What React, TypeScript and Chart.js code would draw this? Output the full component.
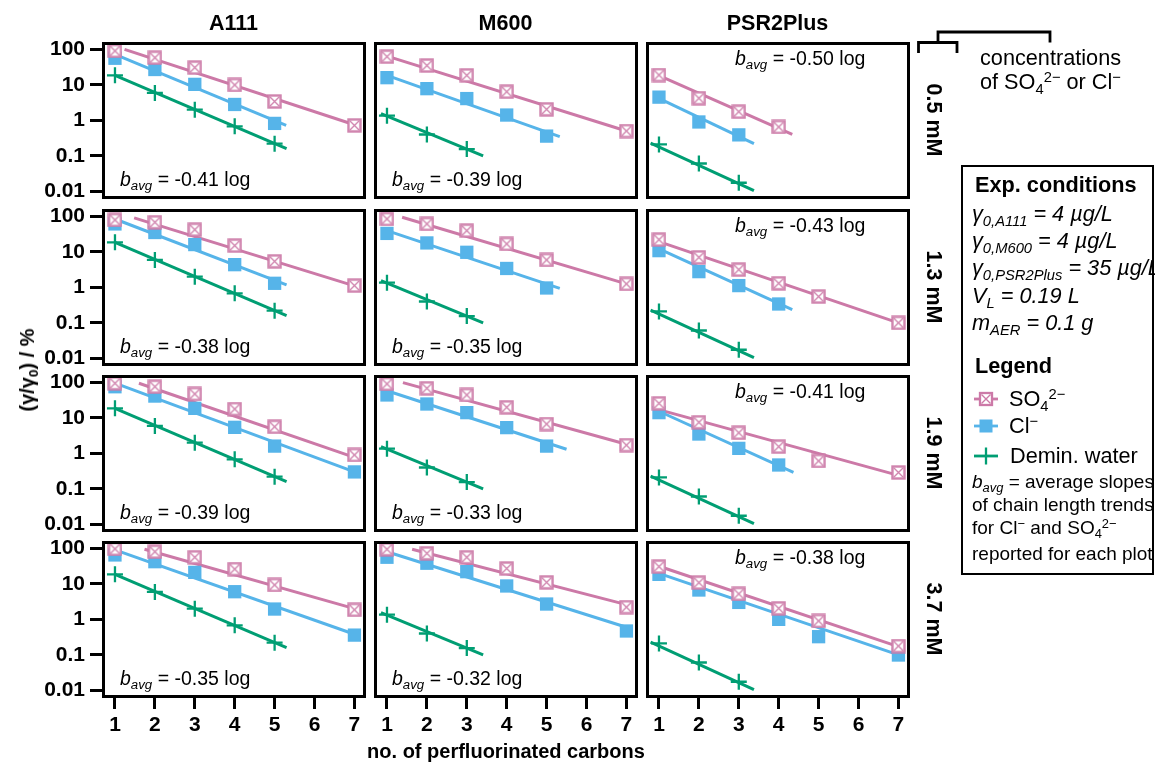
import React, { useEffect, useRef } from "react";
import { Chart, registerables } from "chart.js";

Chart.register(...registerables);

const FONT = '"Liberation Sans", Arial, Helvetica, sans-serif';
const PINK = "#CC79A7";
const BLUE = "#56B4E9";
const GREEN = "#009E73";

const MATERIALS = ["A111", "M600", "PSR2Plus"];
const CONCENTRATIONS = ["0.5 mM", "1.3 mM", "1.9 mM", "3.7 mM"];
const CARBONS = [1, 2, 3, 4, 5, 6, 7];
const X_TICK_LABELS = ["1", "2", "3", "4", "5", "6", "7"];
const Y_TICK_VALUES = [0.01, 0.1, 1, 10, 100];
const Y_TICK_LABELS = ["0.01", "0.1", "1", "10", "100"];

const B_AVG_A111 = ["-0.41", "-0.38", "-0.39", "-0.35"];
const B_AVG_M600 = ["-0.39", "-0.35", "-0.33", "-0.32"];
const B_AVG_PSR2PLUS = ["-0.50", "-0.43", "-0.41", "-0.38"];

type V = number | null;
const N = null;

// (γ/γ0) in % for chain lengths 1..7 (null = not measured), one row per concentration
const SO4_A111: V[][] = [
  [90, 58, 30.5, 9.9, 3.4, N, 0.72],
  [79, 68, 42, 15, 5.4, N, 1.12],
  [94, 75, 47, 17.7, 5.6, N, 0.9],
  [96, 80, 56, 26, 9.3, N, 1.85],
];
const SO4_M600: V[][] = [
  [62, 35, 18.5, 6.4, 2.04, N, 0.5],
  [84, 61, 39.5, 16.7, 5.9, N, 1.25],
  [90, 68, 44, 19.8, 6.7, N, 1.7],
  [94, 72, 56, 27, 11, N, 2.2],
];
const SO4_PSR2PLUS: V[][] = [
  [18.9, 4.2, 1.75, 0.65, N, N, N],
  [22, 7.0, 3.15, 1.3, 0.55, N, 0.1],
  [25.6, 7.5, 3.8, 1.54, 0.61, N, 0.29],
  [30.5, 10.8, 5.2, 2.04, 0.9, N, 0.177],
];
const CL_A111: V[][] = [
  [56, 27, 10.3, 2.8, 0.82, N, N],
  [61, 35, 16, 4.35, 1.3, N, N],
  [75, 41, 18.5, 5.4, 1.6, N, 0.3],
  [65, 42, 21, 6.0, 1.95, N, 0.36],
];
const CL_M600: V[][] = [
  [15.9, 7.8, 4.1, 1.41, 0.36, N, N],
  [33, 17.8, 9.7, 3.4, 0.96, N, N],
  [44, 24.5, 14, 5.3, 1.6, N, N],
  [56, 38, 22, 8.7, 2.7, N, 0.47],
];
const CL_PSR2PLUS: V[][] = [
  [4.5, 0.9, 0.39, N, N, N, N],
  [10.8, 2.77, 1.12, 0.34, N, N, N],
  [14, 3.5, 1.38, 0.47, N, N, N],
  [18.5, 6.7, 3.0, 1.0, 0.325, N, 0.099],
];
const WATER_A111: V[] = [18.5, 5.9, 2.0, 0.68, 0.22, N, N];
const WATER_M600: V[] = [1.35, 0.4, 0.155, N, N, N, N];
const WATER_PSR2PLUS: V[] = [0.21, 0.061, 0.0175, N, N, N, N];

// chain length trend lines: [x start, value start, x end, value end]
const SO4_FIT_A111 = [[1.24, 100, 7, 0.75], [1.48, 90, 7, 1.1], [1.6, 94, 7, 0.77], [1.74, 94, 7, 2.0]];
const SO4_FIT_M600 = [[1, 64, 7, 0.5], [1.38, 94, 7, 1.25], [1.4, 98, 7, 1.8], [1.63, 94, 7, 2.6]];
const SO4_FIT_PSR2PLUS = [[0.875, 21, 4.34, 0.4], [0.87, 21.6, 7, 0.1], [0.88, 18.5, 7, 0.24], [0.87, 35, 7, 0.17]];
const CL_FIT_A111 = [[1, 72, 5.29, 0.72], [1, 84, 5.3, 1.17], [1, 95, 7, 0.3], [1, 90, 7, 0.38]];
const CL_FIT_M600 = [[1, 18.5, 5.33, 0.35], [1, 39.5, 5.33, 0.94], [1, 58, 5.5, 1.3], [1, 80, 7, 0.6]];
const CL_FIT_PSR2PLUS = [[0.92, 4.6, 3.38, 0.22], [0.92, 13.4, 4.34, 0.235], [0.93, 16.6, 4.37, 0.29], [0.87, 22, 7, 0.1]];
const WATER_FIT_A111 = [1, 18.5, 5.3, 0.16];
const WATER_FIT_M600 = [0.85, 1.55, 3.41, 0.1];
const WATER_FIT_PSR2PLUS = [0.79, 0.23, 3.38, 0.0105];

const SO4_ALL = [SO4_A111, SO4_M600, SO4_PSR2PLUS];
const CL_ALL = [CL_A111, CL_M600, CL_PSR2PLUS];
const WATER_ALL = [WATER_A111, WATER_M600, WATER_PSR2PLUS];
const SO4_FIT_ALL = [SO4_FIT_A111, SO4_FIT_M600, SO4_FIT_PSR2PLUS];
const CL_FIT_ALL = [CL_FIT_A111, CL_FIT_M600, CL_FIT_PSR2PLUS];
const WATER_FIT_ALL = [WATER_FIT_A111, WATER_FIT_M600, WATER_FIT_PSR2PLUS];
const B_AVG_ALL = [B_AVG_A111, B_AVG_M600, B_AVG_PSR2PLUS];

// layout
const COL_X = [103, 375, 647];
const ROW_Y = [43, 210, 376, 542];
const PW = 261;
const PH = 154;
const LEFT_W = 100;
const BOTTOM_H = 60;
const PAD = 14;
const X_MIN = 0.7;
const X_MAX = 7.24;
const Y_MIN = 0.00695;
const Y_MAX = 150.5;
const TXT = 21.7;

const toPoints = (vals: V[]) =>
  CARBONS.map((c, i) => ({ x: c, y: vals[i] })).filter((p) => p.y !== null);
const fitPoints = (f: number[]) => [
  { x: f[0], y: f[1] },
  { x: f[2], y: f[3] },
];

function makeBoxX(): HTMLCanvasElement {
  const s = 15;
  const c = document.createElement("canvas");
  c.width = s;
  c.height = s;
  const g = c.getContext("2d")!;
  g.fillStyle = "#fff";
  g.fillRect(1, 1, s - 2, s - 2);
  g.strokeStyle = PINK;
  g.globalAlpha = 0.92;
  g.lineWidth = 2.4;
  g.strokeRect(1.5, 1.5, s - 3, s - 3);
  g.lineWidth = 1.4;
  g.beginPath();
  g.moveTo(3, 3);
  g.lineTo(s - 3, s - 3);
  g.moveTo(s - 3, 3);
  g.lineTo(3, s - 3);
  g.stroke();
  return c;
}

const framePlugin = {
  id: "frame",
  afterDraw(chart: any) {
    const { ctx, chartArea: a } = chart;
    ctx.save();
    ctx.strokeStyle = "#000";
    ctx.lineWidth = 3;
    ctx.strokeRect(
      Math.round(a.left) + 0.5,
      Math.round(a.top) + 0.5,
      Math.round(a.right - a.left),
      Math.round(a.bottom - a.top)
    );
    ctx.restore();
  },
};

function Panel({ row, col }: { row: number; col: number }) {
  const ref = useRef<HTMLCanvasElement>(null);
  const isLeft = col === 0;
  const isBottom = row === 3;
  const leftExtra = isLeft ? LEFT_W : PAD;
  const bottomExtra = isBottom ? BOTTOM_H : PAD;
  const w = PW + leftExtra + PAD;
  const h = PH + PAD + bottomExtra;

  useEffect(() => {
    if (!ref.current) return;
    const tickFont = { family: FONT, size: 21, weight: "bold" as const };
    const boxX = makeBoxX();
    const lineDs = (pts: any[], color: string) => ({
      data: pts,
      showLine: true,
      borderColor: color,
      borderWidth: 3,
      pointRadius: 0,
      fill: false,
      tension: 0,
    });
    const chart = new Chart(ref.current, {
      type: "scatter",
      data: {
        datasets: [
          {
            data: toPoints(SO4_ALL[col][row]),
            pointStyle: boxX as any,
            pointRadius: 7.5,
            showLine: false,
          },
          {
            data: toPoints(CL_ALL[col][row]),
            pointStyle: "rect",
            pointRadius: 9.4,
            pointBackgroundColor: BLUE,
            pointBorderColor: BLUE,
            pointBorderWidth: 0,
            showLine: false,
          },
          {
            data: toPoints(WATER_ALL[col]),
            pointStyle: "cross",
            pointRadius: 8,
            pointBorderColor: GREEN,
            pointBorderWidth: 2.3,
            showLine: false,
          },
          lineDs(fitPoints(SO4_FIT_ALL[col][row]), PINK),
          lineDs(fitPoints(CL_FIT_ALL[col][row]), BLUE),
          lineDs(fitPoints(WATER_FIT_ALL[col]), GREEN),
        ] as any,
      },
      options: {
        animation: false,
        responsive: false,
        events: [],
        layout: {
          padding: { left: isLeft ? 0 : PAD, right: PAD, top: PAD, bottom: isBottom ? 0 : PAD },
        },
        plugins: { legend: { display: false }, tooltip: { enabled: false } },
        scales: {
          x: {
            type: "linear",
            min: X_MIN,
            max: X_MAX,
            afterBuildTicks: (s: any) => {
              s.ticks = CARBONS.map((v) => ({ value: v }));
            },
            afterFit: (s: any) => {
              s.height = isBottom ? BOTTOM_H : 0;
              s.paddingLeft = 0;
              s.paddingRight = 0;
              s.paddingTop = 0;
              s.paddingBottom = 0;
            },
            ticks: {
              display: isBottom,
              callback: (_v: any, i: number) => X_TICK_LABELS[i],
              font: tickFont,
              color: "#000",
              padding: 4,
              maxRotation: 0,
              minRotation: 0,
              autoSkip: false,
            },
            grid: {
              display: isBottom,
              drawOnChartArea: false,
              drawTicks: true,
              tickLength: 13,
              tickWidth: 3,
              tickColor: "#000",
            },
            border: { display: false },
          },
          y: {
            type: "logarithmic",
            min: Y_MIN,
            max: Y_MAX,
            afterBuildTicks: (s: any) => {
              s.ticks = Y_TICK_VALUES.map((v) => ({ value: v }));
            },
            afterFit: (s: any) => {
              s.width = isLeft ? LEFT_W : 0;
              s.paddingLeft = 0;
              s.paddingRight = 0;
              s.paddingTop = 0;
              s.paddingBottom = 0;
            },
            ticks: {
              display: isLeft,
              callback: (_v: any, i: number) => Y_TICK_LABELS[i],
              font: tickFont,
              color: "#000",
              padding: 5,
              autoSkip: false,
            },
            grid: {
              display: isLeft,
              drawOnChartArea: false,
              drawTicks: true,
              tickLength: 13,
              tickWidth: 3,
              tickColor: "#000",
            },
            border: { display: false },
          },
        },
      } as any,
      plugins: [framePlugin],
    });
    return () => chart.destroy();
  }, []);

  return (
    <canvas
      ref={ref}
      width={w}
      height={h}
      style={{
        position: "absolute",
        left: COL_X[col] - leftExtra,
        top: ROW_Y[row] - PAD,
        width: w,
        height: h,
      }}
    />
  );
}

const base: React.CSSProperties = {
  position: "absolute",
  whiteSpace: "nowrap",
  lineHeight: 1,
  fontFamily: FONT,
  color: "#000",
};

function Label(props: {
  x: number;
  y: number;
  size?: number;
  bold?: boolean;
  italic?: boolean;
  anchor?: "start" | "middle";
  rotate?: number;
  children: React.ReactNode;
}) {
  const { x, y, size = TXT, bold, italic, anchor = "start", rotate, children } = props;
  let transform = `translate(${anchor === "middle" ? "-50%" : "0"}, -50%)`;
  if (rotate) transform = `translate(-50%, -50%) rotate(${rotate}deg)`;
  return (
    <div
      style={{
        ...base,
        left: x,
        top: y,
        fontSize: size,
        fontWeight: bold ? "bold" : "normal",
        fontStyle: italic ? "italic" : "normal",
        transform,
      }}
    >
      {children}
    </div>
  );
}

const Sub = ({ children, italic }: { children: React.ReactNode; italic?: boolean }) => (
  <span style={{ fontSize: "0.68em", position: "relative", top: "0.32em", fontStyle: italic ? "italic" : undefined }}>
    {children}
  </span>
);
const Sup = ({ children }: { children: React.ReactNode }) => (
  <span style={{ fontSize: "0.68em", position: "relative", top: "-0.45em" }}>{children}</span>
);

function Sample({ x, y, kind }: { x: number; y: number; kind: "so4" | "cl" | "water" }) {
  const color = kind === "so4" ? PINK : kind === "cl" ? BLUE : GREEN;
  return (
    <svg style={{ position: "absolute", left: x, top: y - 9 }} width={24} height={18}>
      <line x1={0} y1={9} x2={24} y2={9} stroke={color} strokeWidth={2.8} />
      {kind === "so4" && (
        <g>
          <rect x={6} y={3} width={12} height={12} fill="#fff" stroke={color} strokeWidth={2.3} />
          <path d="M7.5 4.5 L16.5 13.5 M16.5 4.5 L7.5 13.5" stroke={color} strokeWidth={1.4} />
        </g>
      )}
      {kind === "cl" && <rect x={5.5} y={2.5} width={13} height={13} fill={color} />}
      {kind === "water" && <line x1={12} y1={0.5} x2={12} y2={17.5} stroke={color} strokeWidth={2.3} />}
    </svg>
  );
}

export default function App() {
  const panels: React.ReactNode[] = [];
  const notes: React.ReactNode[] = [];
  for (let r = 0; r < 4; r++) {
    for (let c = 0; c < 3; c++) {
      panels.push(<Panel key={`p${r}${c}`} row={r} col={c} />);
      const nx = COL_X[c] + (c < 2 ? 17 : 88);
      const ny = c < 2 ? ROW_Y[r] + PH - 17 : ROW_Y[r] + 16;
      notes.push(
        <Label key={`n${r}${c}`} x={nx} y={ny} size={19.5}>
          <i>b</i>
          <Sub italic>avg</Sub> = {B_AVG_ALL[c][r]} log
        </Label>
      );
    }
  }
  return (
    <div
      style={{
        position: "absolute",
        left: 0,
        top: 0,
        width: 1155,
        height: 763,
        overflow: "hidden",
        background: "#fff",
        fontFamily: FONT,
      }}
    >
      {panels}
      {notes}
      {MATERIALS.map((m, c) => (
        <Label key={m} x={COL_X[c] + PW / 2} y={24} size={21.5} bold anchor="middle">
          {m}
        </Label>
      ))}
      {CONCENTRATIONS.map((t, r) => (
        <Label key={t} x={933} y={ROW_Y[r] + PH / 2} size={21.5} bold rotate={90}>
          {t}
        </Label>
      ))}
      <Label x={27} y={370} size={20} bold rotate={-90}>
        (γ/γ<Sub>0</Sub>) / %
      </Label>
      <Label x={506} y={751} size={20} bold anchor="middle">
        no. of perfluorinated carbons
      </Label>

      <svg style={{ position: "absolute", left: 0, top: 0 }} width={1155} height={763} pointerEvents="none">
        <path d="M918.5 53 V42.5 H957 V53" fill="none" stroke="#000" strokeWidth={2.8} />
        <path d="M938 42.5 V32 H1050 V42.5" fill="none" stroke="#000" strokeWidth={2.8} />
      </svg>
      <Label x={980} y={57.5}>concentrations</Label>
      <Label x={980} y={82}>
        of SO<Sub>4</Sub>
        <Sup>2−</Sup> or Cl<Sup>−</Sup>
      </Label>

      <div
        style={{
          position: "absolute",
          left: 961,
          top: 165,
          width: 193,
          height: 410,
          boxSizing: "border-box",
          border: "2px solid #000",
        }}
      />
      <Label x={975} y={185} bold>Exp. conditions</Label>
      <Label x={972} y={214} italic>
        γ<Sub>0,A111</Sub> = 4 µg/L
      </Label>
      <Label x={972} y={241} italic>
        γ<Sub>0,M600</Sub> = 4 µg/L
      </Label>
      <Label x={972} y={268} italic>
        γ<Sub>0,PSR2Plus</Sub> = 35 µg/L
      </Label>
      <Label x={972} y={296} italic>
        V<Sub>L</Sub> = 0.19 L
      </Label>
      <Label x={972} y={323} italic>
        m<Sub>AER</Sub> = 0.1 g
      </Label>
      <Label x={975} y={366} bold>Legend</Label>
      <Sample x={974} y={399} kind="so4" />
      <Sample x={974} y={426} kind="cl" />
      <Sample x={974} y={456} kind="water" />
      <Label x={1009} y={399}>
        SO<Sub>4</Sub>
        <Sup>2−</Sup>
      </Label>
      <Label x={1009} y={426}>
        Cl<Sup>−</Sup>
      </Label>
      <Label x={1010} y={456}>Demin. water</Label>
      <Label x={972} y={481} size={19}>
        <i>b</i>
        <Sub italic>avg</Sub> = average slopes
      </Label>
      <Label x={972} y={503.5} size={19}>of chain length trends</Label>
      <Label x={972} y={526.5} size={19}>
        for Cl<Sup>−</Sup> and SO<Sub>4</Sub>
        <Sup>2−</Sup>
      </Label>
      <Label x={972} y={553} size={19}>reported for each plot</Label>
    </div>
  );
}
